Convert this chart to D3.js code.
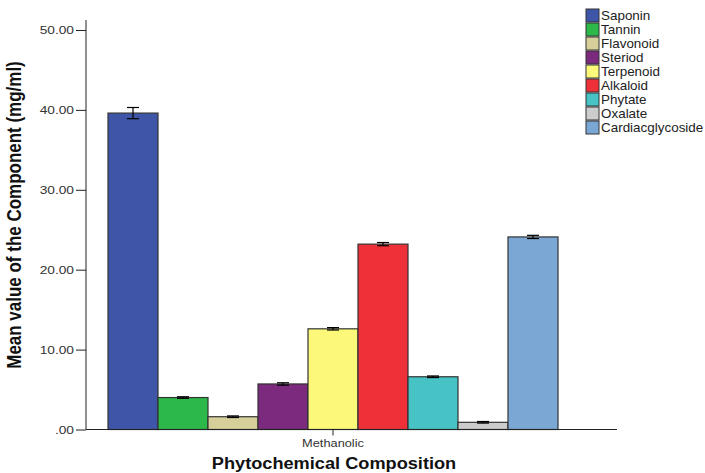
<!DOCTYPE html>
<html>
<head>
<meta charset="utf-8">
<script src="https://cdn.jsdelivr.net/npm/d3@7"></script>
<style>
  body { margin: 0; background: #fff; }
  text { font-family: "Liberation Sans", Arial, sans-serif; }
</style>
</head>
<body>
<svg id="chart" width="705" height="473"></svg>
<script>
// data
const components = ["Saponin", "Tannin", "Flavonoid", "Steriod", "Terpenoid",
  "Alkaloid", "Phytate", "Oxalate", "Cardiacglycoside"];
const means = [39.6, 4.0, 1.6, 5.7, 12.6, 23.2, 6.6, 0.9, 24.1];
const errors = [0.7, 0.1, 0.1, 0.15, 0.15, 0.2, 0.1, 0.1, 0.2];
const colors = ["#3f56a8", "#2db84a", "#d6cf9a", "#7b2a7d", "#fbf87a",
  "#ee3038", "#47c3c6", "#cccccc", "#7aa7d4"];
const groups = ["Methanolic"];
const yTicks = [0, 10, 20, 30, 40, 50];

const svg = d3.select("#chart");
const plotLeft = 86, plotRight = 617, plotTop = 20, plotBottom = 429.5;
// the source picture is stretched sideways a bit, text included
const stretch = 1.25;

const y = d3.scaleLinear().domain([0, 51.25]).range([plotBottom, plotTop]);
const x0 = d3.scaleBand().domain(groups).range([108, 558]);
const x1 = d3.scaleBand().domain(components).range([0, x0.bandwidth()]);

// bars
const g = svg.append("g").attr("transform", `translate(${x0(groups[0])},0)`);
g.selectAll("rect.bar")
  .data(components)
  .join("rect")
  .attr("class", "bar")
  .attr("x", d => x1(d))
  .attr("width", x1.bandwidth())
  .attr("y", (d, i) => y(means[i]))
  .attr("height", (d, i) => y(0) - y(means[i]))
  .attr("fill", (d, i) => colors[i])
  .attr("stroke", "#333")
  .attr("stroke-width", 1.2);

// error bars
const eb = g.selectAll("g.err").data(components).join("g").attr("class", "err")
  .attr("transform", d => `translate(${x1(d) + x1.bandwidth() / 2},0)`);
eb.append("line")
  .attr("y1", (d, i) => y(means[i] - errors[i]))
  .attr("y2", (d, i) => y(means[i] + errors[i]))
  .attr("stroke", "#000").attr("stroke-width", 1.2);
eb.selectAll("line.cap")
  .data((d, i) => [means[i] - errors[i], means[i] + errors[i]])
  .join("line").attr("class", "cap")
  .attr("x1", -6).attr("x2", 6)
  .attr("y1", v => y(v)).attr("y2", v => y(v))
  .attr("stroke", "#000").attr("stroke-width", 1.2);

// y axis
const yAxis = d3.axisLeft(y).tickValues(yTicks)
  .tickFormat(d => d === 0 ? ".00" : d3.format(".2f")(d))
  .tickSize(10).tickSizeOuter(0);
const ya = svg.append("g").attr("transform", `translate(${plotLeft},0)`).call(yAxis);
ya.select(".domain").attr("stroke", "#222").attr("d", `M0,${plotTop}V${plotBottom}`);
ya.selectAll(".tick line").attr("stroke", "#222");
ya.selectAll(".tick text").attr("font-size", 11).attr("fill", "#333")
  .attr("font-family", "Liberation Sans, Arial, sans-serif")
  .attr("x", null)
  .attr("transform", `translate(-12,0) scale(${stretch},1)`);

// x axis
const xa = svg.append("g").attr("transform", `translate(0,${plotBottom})`)
  .call(d3.axisBottom(x0).tickSize(6).tickSizeOuter(0));
xa.select(".domain").attr("stroke", "#222").attr("d", `M${plotLeft},0H${plotRight}`);
xa.selectAll(".tick line").attr("stroke", "#222");
xa.selectAll(".tick text").attr("font-size", 10.5).attr("fill", "#333")
  .attr("font-family", "Liberation Sans, Arial, sans-serif")
  .attr("y", null).attr("dy", null)
  .attr("transform", `translate(0,17) scale(1.22,1)`);

// axis titles
svg.append("text")
  .attr("transform", `translate(21,215) scale(1.15,1) rotate(-90)`)
  .attr("text-anchor", "middle").attr("font-size", 17).attr("font-weight", "bold")
  .attr("fill", "#111")
  .text("Mean value of the Component (mg/ml)");
svg.append("text")
  .attr("transform", `translate(334,469) scale(1.07,1)`)
  .attr("text-anchor", "middle").attr("font-size", 17).attr("font-weight", "bold")
  .attr("fill", "#111")
  .text("Phytochemical Composition");

// legend
const lg = svg.append("g").attr("transform", "translate(586,9)");
const item = lg.selectAll("g").data(components).join("g")
  .attr("transform", (d, i) => `translate(0,${i * 14})`);
item.append("rect").attr("width", 13).attr("height", 13)
  .attr("fill", (d, i) => colors[i]).attr("stroke", "#333").attr("stroke-width", 1);
item.append("text")
  .attr("transform", "translate(15,11) scale(1.12,1)")
  .attr("font-size", 12).attr("fill", "#222").text(d => d);
</script>
</body>
</html>
